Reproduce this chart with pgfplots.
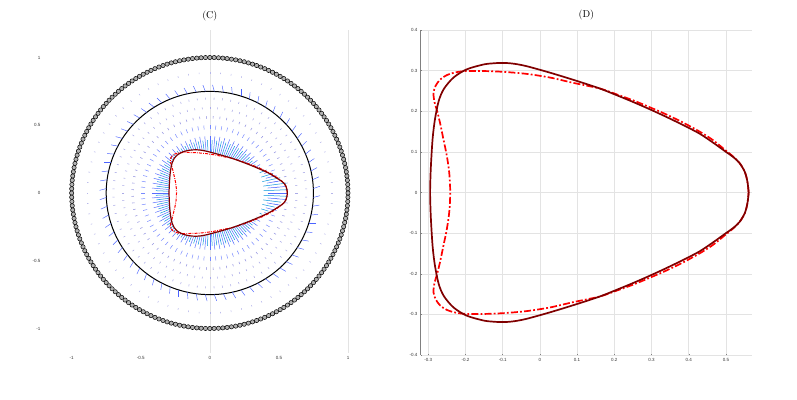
\documentclass[border=0pt]{standalone}
\usepackage{pgfplots}
\pgfplotsset{compat=1.18}
\usepackage{pgfplotstable}
\usetikzlibrary{arrows.meta}
\usepackage{fontspec}
\newfontfamily\ticfont{Liberation Sans}
\definecolor{darkred}{RGB}{128,0,0}
\definecolor{lav}{RGB}{150,150,225}
\definecolor{qblue}{RGB}{30,60,255}

% angles of the outer marker ring
\pgfplotstableread{
t
0
1.8
3.6
5.4
7.2
9
10.8
12.6
14.4
16.2
18
19.8
21.6
23.4
25.2
27
28.8
30.6
32.4
34.2
36
37.8
39.6
41.4
43.2
45
46.8
48.6
50.4
52.2
54
55.8
57.6
59.4
61.2
63
64.8
66.6
68.4
70.2
72
73.8
75.6
77.4
79.2
81
82.8
84.6
86.4
88.2
90
91.8
93.6
95.4
97.2
99
100.8
102.6
104.4
106.2
108
109.8
111.6
113.4
115.2
117
118.8
120.6
122.4
124.2
126
127.8
129.6
131.4
133.2
135
136.8
138.6
140.4
142.2
144
145.8
147.6
149.4
151.2
153
154.8
156.6
158.4
160.2
162
163.8
165.6
167.4
169.2
171
172.8
174.6
176.4
178.2
180
181.8
183.6
185.4
187.2
189
190.8
192.6
194.4
196.2
198
199.8
201.6
203.4
205.2
207
208.8
210.6
212.4
214.2
216
217.8
219.6
221.4
223.2
225
226.8
228.6
230.4
232.2
234
235.8
237.6
239.4
241.2
243
244.8
246.6
248.4
250.2
252
253.8
255.6
257.4
259.2
261
262.8
264.6
266.4
268.2
270
271.8
273.6
275.4
277.2
279
280.8
282.6
284.4
286.2
288
289.8
291.6
293.4
295.2
297
298.8
300.6
302.4
304.2
306
307.8
309.6
311.4
313.2
315
316.8
318.6
320.4
322.2
324
325.8
327.6
329.4
331.2
333
334.8
336.6
338.4
340.2
342
343.8
345.6
347.4
349.2
351
352.8
354.6
356.4
358.2
}\angles

% polar radius of the inner (dark red) curve
\pgfplotstableread{
t r
0 0.561
5 0.555
10 0.521
15 0.480
20 0.445
25 0.410
30 0.382
35 0.360
40 0.340
45 0.326
50 0.315
55 0.306
60 0.300
65 0.294
70 0.289
75 0.289
80 0.291
85 0.294
90 0.302
95 0.310
100 0.319
105 0.329
110 0.340
115 0.350
120 0.358
125 0.364
130 0.367
135 0.364
140 0.355
145 0.342
150 0.328
155 0.316
160 0.308
165 0.302
170 0.298
175 0.296
180 0.295
185 0.296
190 0.298
195 0.302
200 0.308
205 0.316
210 0.328
215 0.342
220 0.355
225 0.364
230 0.367
235 0.364
240 0.358
245 0.350
250 0.340
255 0.329
260 0.319
265 0.310
270 0.302
275 0.294
280 0.291
285 0.289
290 0.289
295 0.294
300 0.300
305 0.306
310 0.315
315 0.326
320 0.340
325 0.360
330 0.382
335 0.410
340 0.445
345 0.480
350 0.521
355 0.555
}\rtab

% solid dark red curve
\pgfplotstableread{
x y
0.561 0.000
0.558 0.025
0.551 0.050
0.537 0.072
0.520 0.087
0.500 0.100
0.465 0.123
0.429 0.145
0.385 0.166
0.340 0.186
0.295 0.205
0.250 0.223
0.205 0.240
0.161 0.256
0.098 0.275
0.027 0.295
-0.036 0.311
-0.070 0.317
-0.098 0.319
-0.125 0.318
-0.152 0.315
-0.197 0.303
-0.232 0.283
-0.258 0.255
-0.272 0.225
-0.282 0.180
-0.288 0.135
-0.292 0.080
-0.294 0.040
-0.295 0.000
-0.294 -0.040
-0.292 -0.080
-0.288 -0.135
-0.282 -0.180
-0.272 -0.225
-0.258 -0.255
-0.232 -0.283
-0.197 -0.303
-0.152 -0.315
-0.125 -0.318
-0.098 -0.319
-0.070 -0.317
-0.036 -0.311
0.027 -0.295
0.098 -0.275
0.161 -0.256
0.205 -0.240
0.250 -0.223
0.295 -0.205
0.340 -0.186
0.385 -0.166
0.429 -0.145
0.465 -0.123
0.500 -0.100
0.520 -0.087
0.537 -0.072
0.551 -0.050
0.558 -0.025
0.561 0.000
}\solid

% red dash-dot curve
\pgfplotstableread{
x y
0.561 0.000
0.558 0.025
0.551 0.050
0.537 0.072
0.520 0.088
0.500 0.103
0.465 0.129
0.429 0.150
0.385 0.172
0.340 0.192
0.295 0.210
0.250 0.227
0.205 0.242
0.161 0.256
0.089 0.270
0.027 0.283
-0.036 0.292
-0.098 0.297
-0.152 0.299
-0.197 0.299
-0.225 0.296
-0.250 0.289
-0.268 0.278
-0.280 0.263
-0.286 0.245
-0.283 0.222
-0.276 0.200
-0.268 0.170
-0.259 0.130
-0.251 0.095
-0.245 0.060
-0.242 0.030
-0.241 0.000
-0.242 -0.030
-0.245 -0.060
-0.251 -0.095
-0.259 -0.130
-0.268 -0.170
-0.276 -0.200
-0.283 -0.222
-0.286 -0.245
-0.280 -0.263
-0.268 -0.278
-0.250 -0.289
-0.225 -0.296
-0.197 -0.299
-0.152 -0.299
-0.098 -0.297
-0.036 -0.292
0.027 -0.283
0.089 -0.270
0.161 -0.256
0.205 -0.242
0.250 -0.227
0.295 -0.210
0.340 -0.192
0.385 -0.172
0.429 -0.150
0.465 -0.129
0.500 -0.103
0.520 -0.088
0.537 -0.072
0.551 -0.050
0.558 -0.025
0.561 0.000
}\dashed

\pgfplotsset{
  ticstyle/.style={
    tick label style={font=\ticfont\fontsize{4.5}{5.5}\selectfont, text=black!80},
    /pgf/number format/assume math mode=true,
  },
}

\begin{document}
\begin{tikzpicture}
\useasboundingbox (0,0) rectangle (797pt,399pt);

% ---------------- (C) ----------------
\begin{axis}[
  at={(44pt,46.1pt)}, anchor=south west,
  scale only axis, width=304pt, height=322.5pt,
  xmin=-1.2, xmax=1.0, ymin=-1.18, ymax=1.2,
  clip=false,
  axis line style={draw=none},
  major tick length=0pt,
  xtick={-1,-0.5,0,0.5,1}, ytick={-1,-0.5,0,0.5,1},
  extra x ticks={0,1}, extra x tick labels={},
  extra x tick style={grid=major, major grid style={gray!22, line width=0.5pt}},
  ticstyle,
  title={(C)},
  title style={at={(0.5455,1)}, anchor=south, font=\fontsize{10}{12}\selectfont, yshift=0pt},
]
% outer ring of markers
\addplot[only marks, mark=*, mark size=2.15pt,
  mark options={fill=gray!60, draw=black, line width=0.5pt}]
  table[x index=0, y index=0, x expr={cos(\thisrow{t})}, y expr={sin(\thisrow{t})}] {\angles};

% faint rings
\addplot[lav!70, line width=0.55pt, quiver={u={0.012*cos(\thisrow{t})}, v={0.012*sin(\thisrow{t})}}]
  table[x expr={0.88*cos(\thisrow{t})}, y expr={0.88*sin(\thisrow{t})}] {\rtab};
\addplot[lav!80, line width=0.55pt, quiver={u={0.015*cos(\thisrow{t}+2.5)}, v={0.015*sin(\thisrow{t}+2.5)}}]
  table[x expr={0.69*cos(\thisrow{t}+2.5)}, y expr={0.69*sin(\thisrow{t}+2.5)}] {\rtab};
\addplot[lav!80, line width=0.55pt, quiver={u={0.015*cos(\thisrow{t})}, v={0.015*sin(\thisrow{t})}}]
  table[x expr={0.62*cos(\thisrow{t})}, y expr={0.62*sin(\thisrow{t})}] {\rtab};
\addplot[lav, line width=0.55pt, quiver={u={0.018*cos(\thisrow{t}+2.5)}, v={0.018*sin(\thisrow{t}+2.5)}}]
  table[x expr={0.55*cos(\thisrow{t}+2.5)}, y expr={0.55*sin(\thisrow{t}+2.5)}] {\rtab};
\addplot[qblue!60, line width=0.5pt, quiver={u={0.03*cos(\thisrow{t})}, v={0.03*sin(\thisrow{t})}}]
  table[x expr={0.47*cos(\thisrow{t})}, y expr={0.47*sin(\thisrow{t})}] {\rtab};

% black circle r = 0.75
\addplot[black, line width=1pt, smooth cycle]
  table[x expr={0.75*cos(\thisrow{t})}, y expr={0.75*sin(\thisrow{t})}] {\rtab};

% blue ring near black circle
\addplot[qblue!80, line width=0.45pt, quiver={u={0.05*cos(\thisrow{t}+20)}, v={0.05*sin(\thisrow{t}+20)}}]
  table[x expr={0.75*cos(\thisrow{t}+2.5)}, y expr={0.75*sin(\thisrow{t}+2.5)}] {\rtab};

% arrows to the inner curve
\addplot[qblue!75, line width=0.5pt, quiver={u={(\thisrow{r}-0.42)*cos(\thisrow{t})}, v={(\thisrow{r}-0.42)*sin(\thisrow{t})}}]
  table[x expr={0.42*cos(\thisrow{t})}, y expr={0.42*sin(\thisrow{t})}] {\rtab};
\addplot[cyan!80!blue, line width=0.5pt, quiver={u={(\thisrow{r}-0.39)*cos(\thisrow{t}+2.5)}, v={(\thisrow{r}-0.39)*sin(\thisrow{t}+2.5)}}]
  table[x expr={0.39*cos(\thisrow{t}+2.5)}, y expr={0.39*sin(\thisrow{t}+2.5)}] {\rtab};

% curves
\addplot[red, line width=1pt, dash pattern=on 3pt off 1.2pt on 0.8pt off 1.2pt, smooth] table {\dashed};
\addplot[darkred, line width=1.2pt, smooth] table {\solid};
\end{axis}

% ---------------- (D) ----------------
\begin{axis}[
  at={(420.8pt,44pt)}, anchor=south west,
  scale only axis, width=331.2pt, height=325pt,
  xmin=-0.32, xmax=0.57, ymin=-0.4, ymax=0.4,
  axis y line*=left, axis x line*=bottom,
  x axis line style={draw=none},
  y axis line style={draw=gray, line width=0.7pt},
  xtick={-0.3,-0.2,-0.1,0,0.1,0.2,0.3,0.4,0.5},
  ytick={-0.4,-0.3,-0.2,-0.1,0,0.1,0.2,0.3,0.4},
  xticklabels={-0.3,-0.2,-0.1,0,0.1,0.2,0.3,0.4,0.5},
  yticklabels={-0.4,-0.3,-0.2,-0.1,0,0.1,0.2,0.3,0.4},
  major tick length=1.5pt,
  tick style={gray, line width=0.4pt},
  grid=major, major grid style={gray!22, line width=0.5pt},
  ticstyle,
  title={(D)},
  title style={font=\fontsize{10}{12}\selectfont},
]
\addplot[red, line width=1.7pt, dash pattern=on 7pt off 2.2pt on 1.8pt off 2.2pt, smooth] table {\dashed};
\addplot[darkred, line width=1.7pt, smooth] table {\solid};
\end{axis}
\end{tikzpicture}
\end{document}
